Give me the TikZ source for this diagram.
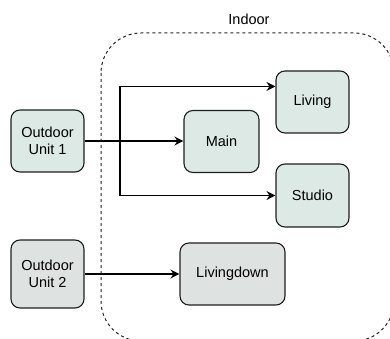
\documentclass[tikz,border=0pt]{standalone}
\usepackage{fontspec}
\setmainfont{Liberation Sans}
\usetikzlibrary{arrows.meta}
\definecolor{unitgreen}{HTML}{DCE9E4}
\definecolor{unitgray}{HTML}{DEE2E1}
\definecolor{edgegray}{HTML}{1F1F1F}
\tikzset{
  unit/.style={draw=edgegray, line width=1.1pt, rounded corners=9pt,
    align=center, font=\fontsize{14.5}{17}\selectfont, inner sep=0pt},
  greenunit/.style={unit, fill=unitgreen},
  grayunit/.style={unit, fill=unitgray},
  arr/.style={draw=black, line width=1.1pt,
    -{Stealth[length=9pt,width=9pt,inset=3pt]}},
  zone/.style={draw=black!85, line width=1pt, dash pattern=on 3pt off 3pt,
    rounded corners=40pt}
}
\begin{document}
\begin{tikzpicture}[x=1pt,y=-1pt]
  \useasboundingbox (0,0) rectangle (390,339);
  % indoor zone
  \draw[zone] (101,33) rectangle (394,341);
  \node[font=\fontsize{14.5}{17}\selectfont] (indoor) at (249,19) {Indoor};

  % outdoor units
  \node[greenunit, minimum width=73pt, minimum height=62pt] (o1) at (47.5,141) {Outdoor\\Unit 1};
  \node[grayunit, minimum width=73pt, minimum height=68pt] (o2) at (47.5,274) {Outdoor\\Unit 2};

  % indoor units
  \node[greenunit, minimum width=75pt, minimum height=62pt] (main) at (221.5,141.5) {Main};
  \node[greenunit, minimum width=73pt, minimum height=62pt] (living) at (312.5,102) {Living};
  \node[greenunit, minimum width=73pt, minimum height=63pt] (studio) at (312.5,195.5) {Studio};
  \node[grayunit, minimum width=105pt, minimum height=62pt] (down) at (232.5,274) {Livingdown};

  % piping
  \coordinate (br) at (120,141);
  \draw[arr] (o1.east) -- (o1.east -| main.west);
  \draw[arr] (br) |- ([yshift=-16pt]living.north west);
  \draw[arr] (br) |- (studio.west);
  \draw[arr] (o2.east) -- (down.west);
\end{tikzpicture}
\end{document}
